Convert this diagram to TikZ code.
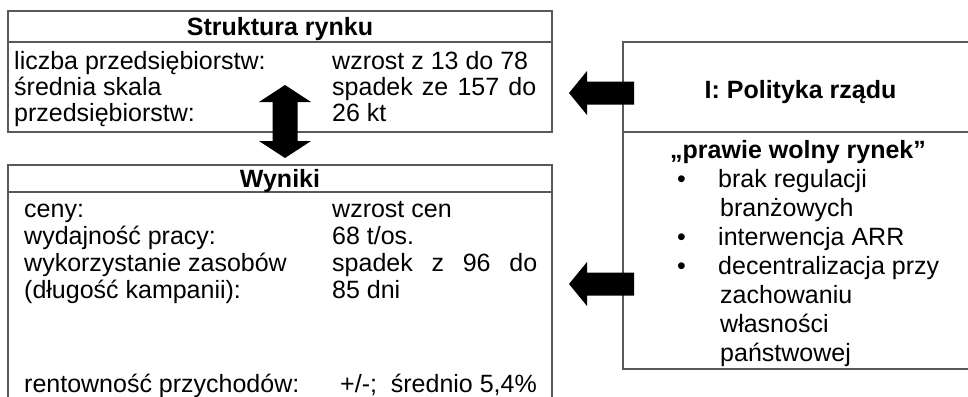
\documentclass[tikz,border=0pt]{standalone}
\usepackage{fontspec}
\setmainfont{Liberation Sans}
\usetikzlibrary{calc}
\tikzset{
	frame/.style={line width=1.3pt, color=black!65},
	txt/.style={anchor=base west, inner sep=0pt, font=\fontsize{25}{29}\selectfont},
	hdr/.style={anchor=base, inner sep=0pt, font=\fontsize{25}{29}\selectfont\bfseries}
}
\def\leftblock(#1){\fill[black] (#1) -- ++(18,-22) -- ++(0,10.5) -- ++(47,0) -- ++(0,23) -- ++(-47,0) -- ++(0,10.5) -- cycle;}

\begin{document}
\begin{tikzpicture}[x=1pt, y=-1pt]
		%%%%% START %%%%%
		\useasboundingbox (0, 0) rectangle (968, 396);
		
		% Struktura rynku
		\draw[frame] (8, 11) rectangle (552, 132);
		\draw[frame] (8, 42) -- (552, 42);
		\node[hdr] (struktura) at (280, 35.5) {Struktura rynku};
		\node[txt] (liczba) at (14, 69) {liczba przedsiębiorstw:};
		\node[txt] (srednia) at (14, 95) {średnia skala};
		\node[txt] (przeds) at (14, 121) {przedsiębiorstw:};
		\node[txt] (wzrost) at (332, 69) {wzrost z 13 do 78};
		\node[txt] (spadek) at (332, 95) {\makebox[204pt][s]{spadek ze 157 do}};
		\node[txt] (kt) at (332, 121) {26 kt};
		
		% Wyniki
		\draw[frame] (8, 400) -- (8, 165) -- (552, 165) -- (552, 400);
		\draw[frame] (8, 192) -- (552, 192);
		\node[hdr] (wyniki) at (280, 187.5) {Wyniki};
		\node[txt] (ceny) at (24, 217) {ceny:};
		\node[txt] (wydaj) at (24, 244) {wydajność pracy:};
		\node[txt] (wykorz) at (24, 271) {wykorzystanie zasobów};
		\node[txt] (dlug) at (24, 298) {(długość kampanii):};
		\node[txt] (rent) at (24, 392) {rentowność przychodów:};
		\node[txt] (cen) at (332, 217) {wzrost cen};
		\node[txt] (tos) at (332, 244) {68 t/os.};
		\node[txt] (spadek2) at (332, 271) {\makebox[205pt][s]{spadek z 96 do}};
		\node[txt] (dni) at (332, 298) {85 dni};
		\node[txt] (sred) at (340, 392) {+/-;~~średnio 5,4\%};
		
		% Polityka rzadu
		\draw[frame] (980, 42) -- (623, 42) -- (623, 369) -- (980, 369);
		\draw[frame] (623, 132) -- (980, 132);
		\node[hdr] (polityka) at (800.5, 98) {I: Polityka rządu};
		\node[txt, font=\fontsize{25}{29}\selectfont\bfseries] (wolny) at (670, 158) {„prawie wolny rynek”};
		\node[txt] (b1) at (677, 187) {•};
		\node[txt] (b2) at (677, 245.3) {•};
		\node[txt] (b3) at (677, 274.4) {•};
		\node[txt] (brak) at (718, 187) {brak regulacji};
		\node[txt] (branz) at (720, 216.2) {branżowych};
		\node[txt] (arr) at (718, 245.3) {interwencja ARR};
		\node[txt] (decent) at (718, 274.4) {decentralizacja przy};
		\node[txt] (zach) at (720, 303.5) {zachowaniu};
		\node[txt] (wlasn) at (720, 332.6) {własności};
		\node[txt] (panst) at (720, 361.7) {państwowej};
		
		% strzalki
		\coordinate (tip1) at (569, 93);
		\coordinate (tip2) at (569, 284);
		\leftblock(tip1);
		\leftblock(tip2);
		
		\coordinate (tipup) at (285, 85);
		\fill[black] (tipup) -- ++(26, 17) -- ++(-13.5, 0) -- ++(0, 39) -- ++(13.5, 0) -- ++(-26, 17)
			-- ++(-26, -17) -- ++(13.5, 0) -- ++(0, -39) -- ++(-13.5, 0) -- cycle;
		
		%%%%% END %%%%%
	\end{tikzpicture}
\end{document}
